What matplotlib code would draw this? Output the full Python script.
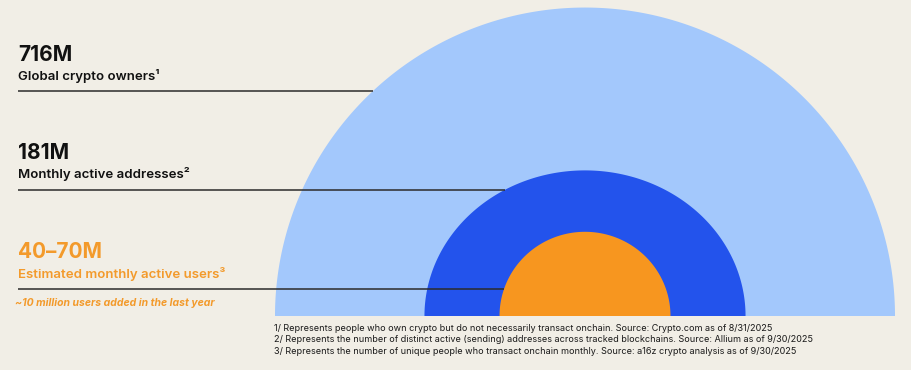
import numpy as np
import matplotlib
matplotlib.use("Agg")
import matplotlib.pyplot as plt
from matplotlib.patches import Polygon

# ---------------- data ----------------
values = [716, 181, 55]          # millions (40-70M shown by its midpoint)
headlines = ["716M", "181M", "40–70M"]
labels = ["Global crypto owners¹", "Monthly active addresses²", "Estimated monthly active users³"]
note = "~10 million users added in the last year"
footnotes = [
    "1/ Represents people who own crypto but do not necessarily transact onchain. Source: Crypto.com as of 8/31/2025",
    "2/ Represents the number of distinct active (sending) addresses across tracked blockchains. Source: Allium as of 9/30/2025",
    "3/ Represents the number of unique people who transact onchain monthly. Source: a16z crypto analysis as of 9/30/2025",
]

# ---------------- style / layout ----------------
BG = "#F1EEE6"
ring_colors = ["#A3C8FC", "#2353EC", "#F7961F"]
ring_stretch = [1.0, 1.03, 0.995]     # horizontal stretch of each ring
ring_aspect = [0.995, 0.907, 0.985]   # vertical / horizontal radius
text_colors = ["#111111", "#111111", "#F39A2B"]
FONT = ["Inter", "DejaVu Sans"]

W, H = 911, 370
cx, base = 585, 316
outer_r = 310
label_x = 18
head_base = [61, 159, 258]
label_base = [80, 178, 278]
line_y = [91, 189.5, 289]

fig = plt.figure(figsize=(W / 100, H / 100), dpi=100, facecolor=BG)
ax = fig.add_axes([0, 0, 1, 1])
ax.set_xlim(0, W)
ax.set_ylim(H, 0)
ax.set_facecolor(BG)
ax.axis("off")

k = outer_r / np.sqrt(values[0])
radii = []
for v, col, st, asp in zip(values, ring_colors, ring_stretch, ring_aspect):
    a = k * np.sqrt(v) * st
    b = a * asp
    radii.append((a, b))
    t = np.linspace(0, np.pi, 400)
    pts = np.column_stack([cx + a * np.cos(t), base - b * np.sin(t)])
    ax.add_patch(Polygon(pts, closed=True, facecolor=col, edgecolor="none", zorder=1))

for i in range(3):
    a, b = radii[i]
    dy = base - line_y[i]
    x_end = cx - a * np.sqrt(max(0.0, 1 - (dy / b) ** 2))
    ax.plot([label_x, x_end], [line_y[i], line_y[i]], color="#2B2B2B", lw=1.1,
            solid_capstyle="butt", zorder=3)
    ax.text(label_x, head_base[i], headlines[i], fontsize=15, fontweight="bold",
            color=text_colors[i], family=FONT, va="baseline", ha="left", zorder=4)
    ax.text(label_x, label_base[i], labels[i], fontsize=9.5, fontweight="semibold",
            color=text_colors[i], family=FONT, va="baseline", ha="left", zorder=4)

ax.text(15, 306, note, fontsize=7.5, fontweight="bold", fontstyle="italic",
        color="#F39A2B", family=FONT, va="baseline", ha="left", zorder=4)

for j, fn in enumerate(footnotes):
    ax.text(274, 331 + j * 11.3, fn, fontsize=6.55, color="#1A1A1A", family=FONT,
            va="baseline", ha="left", zorder=4)

fig.savefig("out.png", dpi=100, facecolor=BG)
